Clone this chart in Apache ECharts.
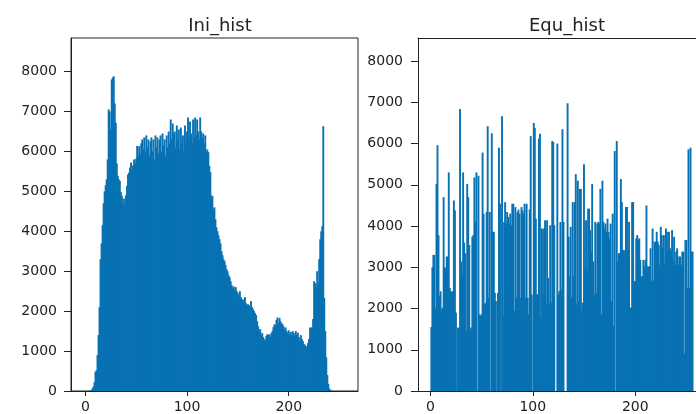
<!DOCTYPE html>
<html>
<head>
<meta charset="utf-8">
<script src="https://cdn.jsdelivr.net/npm/echarts@6/dist/echarts.min.js"></script>
<style>
  html, body { margin: 0; padding: 0; background: #fff; }
  #main { width: 696px; height: 414px; }
</style>
</head>
<body>
<div id="main"></div>
<script>
// titles of the two panels
const titles = ['Ini_hist', 'Equ_hist']

// tick values shown on the axes
const xTicks = [0, 100, 200]
const yTicks = [0, 1000, 2000, 3000, 4000, 5000, 6000, 7000, 8000]

// histogram of the original image, one count per grey level 0..255
const iniHist = [
  0, 0, 0, 5, 10, 20, 60, 110, 220, 480,
  520, 900, 1400, 2100, 3300, 3700, 4150, 4700, 5000, 5150,
  5300, 5800, 7050, 7000, 6550, 7800, 7850, 7880, 7200, 6720,
  5700, 5390, 5300, 5260, 4980, 4890, 4700, 4820, 4650, 4900,
  5140, 5420, 5470, 5600, 5720, 5550, 5650, 5800, 5700, 5820,
  6140, 5900, 6130, 5950, 6200, 6300, 6050, 6350, 6000, 6400,
  6100, 6300, 5900, 6250, 6350, 6000, 6300, 5800, 6400, 6100,
  6350, 5950, 6300, 6400, 6000, 6450, 6150, 6300, 5900, 6400,
  6100, 6500, 6200, 6800, 6300, 6700, 6450, 6500, 6100, 6650,
  6300, 6550, 6050, 6600, 6200, 6400, 6000, 6650, 6250, 6500,
  6850, 6300, 6750, 6450, 6200, 6800, 6350, 6850, 6400, 6800,
  6500, 6300, 6850, 6500, 6350, 6450, 6200, 6400, 6000, 6050,
  5980, 5640, 5480, 4900, 4880, 4560, 4600, 4300, 4100, 4000,
  3900, 3800, 3700, 3500, 3400, 3300, 3250, 3150, 3050, 3000,
  2900, 2850, 2750, 2650, 2580, 2620, 2550, 2600, 2500, 2450,
  2400, 2500, 2350, 2300, 2290, 2250, 2350, 2200, 2150, 2170,
  2150, 2100, 2250, 2100, 2050, 2000, 1950, 1900, 1750, 1620,
  1500, 1550, 1400, 1450, 1350, 1300, 1260, 1380, 1420, 1400,
  1420, 1350, 1450, 1500, 1600, 1670, 1650, 1780, 1840, 1700,
  1830, 1750, 1700, 1670, 1620, 1550, 1590, 1500, 1450, 1520,
  1420, 1480, 1400, 1500, 1450, 1380, 1500, 1400, 1460, 1350,
  1260, 1400, 1300, 1250, 1180, 1150, 1120, 1100, 1200, 1300,
  1590, 1550, 1600, 1800, 2750, 2700, 2600, 3000, 2700, 3300,
  3800, 4000, 4130, 6630, 2330, 1500, 840, 400, 180, 60,
  30, 10, 0, 0, 0, 0, 0, 0, 0, 0,
  0, 0, 0, 0, 0, 0
]

// histogram after equalisation
const equHist = [
  1550, 3000, 3300, 3300, 2000, 5020, 5960, 3780, 2300, 2420,
  1980, 2020, 4700, 3000, 2980, 3260, 3260, 5300, 2500, 2420,
  2400, 2420, 4620, 4380, 1900, 0, 1540, 1500, 6840, 3140,
  2820, 5300, 3600, 3340, 1460, 5020, 4700, 3540, 1500, 1540,
  3740, 3780, 5180, 4100, 5300, 0, 5220, 1860, 1820, 1860,
  5780, 4300, 2100, 2140, 4340, 6420, 2260, 4340, 0, 6250,
  3860, 3860, 2380, 2180, 0, 2380, 5900, 4540, 0, 6660,
  1820, 4100, 4580, 4060, 4340, 4220, 4060, 4300, 4020, 4540,
  4540, 1940, 4460, 2260, 4340, 4400, 4300, 2260, 4460, 4380,
  4300, 4540, 2260, 4540, 2260, 1860, 4400, 6180, 2340, 0,
  6500, 6380, 4180, 2340, 2340, 6120, 6240, 1780, 3940, 2340,
  3940, 4140, 2100, 4140, 2740, 2100, 4020, 2140, 6060, 6040,
  4020, 0, 0, 6000, 2340, 2420, 4100, 2460, 6350, 4100,
  0, 0, 0, 6980, 3740, 2780, 3980, 2260, 4580, 2780,
  4580, 5260, 2100, 5100, 2180, 4900, 4900, 1940, 2140, 5500,
  2980, 4140, 2940, 4420, 4420, 3900, 3380, 5020, 3140, 2340,
  4100, 2380, 4060, 4100, 4060, 4900, 1860, 5100, 4100, 3940,
  4060, 3860, 4180, 3860, 3700, 4060, 2180, 4300, 1580, 5820,
  0, 6060, 3140, 3340, 3340, 5140, 4580, 3420, 3420, 3340,
  4460, 4460, 3420, 4100, 2020, 2020, 4580, 4580, 2660, 2660,
  3700, 3780, 3660, 3700, 3180, 2780, 2780, 3180, 3020, 3180,
  4500, 3020, 3020, 3020, 3460, 2660, 3940, 2700, 3620, 3620,
  3860, 3620, 3540, 3060, 3980, 3780, 3460, 3780, 3060, 3940,
  3860, 3380, 3860, 3460, 3380, 3900, 3140, 3740, 3060, 3380,
  3460, 3060, 3260, 3260, 3060, 3380, 3380, 900, 3660, 3660,
  2500, 5860, 2500, 5900, 3380, 3380
]

const barColor = '#0872b3'
const inkColor = '#222'
const font = 'DejaVu Sans'

const myChart = echarts.init(document.getElementById('main'))

// one rectangle per bin, from x to x+1, height = count
// (a little wider than the bin so neighbouring bars leave no seam)
function renderBin (params, api) {
  const x = api.value(0)
  const p0 = api.coord([x, 0])
  const p1 = api.coord([x + 1, api.value(1)])
  return {
    type: 'rect',
    shape: { x: p0[0], y: p1[1], width: p1[0] - p0[0] + 0.9, height: p0[1] - p1[1] },
    style: { fill: barColor }
  }
}

function xAxisFor (gridIndex, min, max) {
  return {
    type: 'value',
    gridIndex: gridIndex,
    min: min,
    max: max,
    splitLine: { show: false },
    axisLine: { onZero: false, lineStyle: { color: inkColor, width: 1 } },
    axisTick: { customValues: xTicks, length: 5, lineStyle: { color: inkColor } },
    axisLabel: {
      customValues: xTicks,
      margin: 9,
      color: inkColor,
      fontSize: 14,
      fontFamily: font,
      formatter: v => String(v)
    }
  }
}

// top spine only: a bare axis line along the top of a grid
function topSpineFor (gridIndex, min, max) {
  return {
    type: 'value',
    gridIndex: gridIndex,
    position: 'top',
    min: min,
    max: max,
    splitLine: { show: false },
    axisLine: { onZero: false, lineStyle: { color: inkColor, width: 1 } },
    axisTick: { show: false },
    axisLabel: { show: false }
  }
}

function yAxisFor (gridIndex, max, margin) {
  return {
    type: 'value',
    gridIndex: gridIndex,
    min: 0,
    max: max,
    splitLine: { show: false },
    axisLine: { show: true, onZero: false, lineStyle: { color: inkColor, width: 1 } },
    axisTick: { customValues: yTicks, length: 7, lineStyle: { color: inkColor } },
    axisLabel: {
      customValues: yTicks,
      margin: margin,
      color: inkColor,
      fontSize: 14,
      fontFamily: font,
      formatter: v => String(v)
    }
  }
}

const option = {
  animation: false,
  backgroundColor: '#fff',
  title: [
    { text: titles[0], left: 215, top: 12, textAlign: 'center', textStyle: { fontSize: 18, fontWeight: 'normal', color: inkColor, fontFamily: font } },
    { text: titles[1], left: 562, top: 12, textAlign: 'center', textStyle: { fontSize: 18, fontWeight: 'normal', color: inkColor, fontFamily: font } }
  ],
  grid: [
    { left: 71, top: 38, width: 287, height: 356, show: true, borderColor: inkColor, borderWidth: 1, backgroundColor: 'transparent' },
    // the right panel runs off the edge of the picture
    { left: 418, top: 38, right: 0, height: 356, show: false }
  ],
  xAxis: [
    xAxisFor(0, -14.1, 268.1),
    xAxisFor(1, -12.1, 259.3),
    topSpineFor(1, -12.1, 259.3)
  ],
  yAxis: [
    yAxisFor(0, 8840, 14),
    yAxisFor(1, 8560, 15)
  ],
  series: [
    {
      name: titles[0],
      type: 'custom',
      xAxisIndex: 0,
      yAxisIndex: 0,
      clip: true,
      renderItem: renderBin,
      data: iniHist.map((v, i) => [i, v])
    },
    {
      name: titles[1],
      type: 'custom',
      xAxisIndex: 1,
      yAxisIndex: 1,
      clip: true,
      renderItem: renderBin,
      data: equHist.map((v, i) => [i, v])
    }
  ]
}

myChart.setOption(option)
</script>
</body>
</html>
